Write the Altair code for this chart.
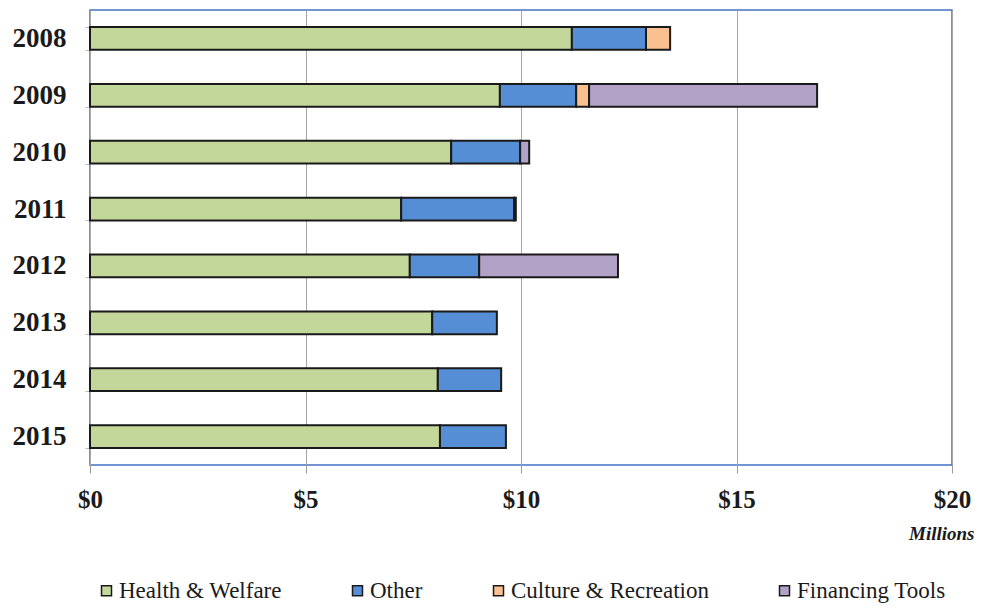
import altair as alt
import pandas as pd

years = ["2008", "2009", "2010", "2011", "2012", "2013", "2014", "2015"]
categories = ["Health & Welfare", "Other", "Culture & Recreation", "Financing Tools"]
health = [11.18, 9.51, 8.38, 7.22, 7.42, 7.94, 8.07, 8.12]
other = [1.72, 1.77, 1.60, 2.62, 1.61, 1.50, 1.47, 1.53]
culture = [0.56, 0.30, 0.0, 0.0, 0.0, 0.0, 0.0, 0.0]
financing = [0.0, 5.29, 0.21, 0.04, 3.22, 0.0, 0.0, 0.0]
colors = ["#C4D79B", "#558ED5", "#FAC090", "#B3A2C7"]

rows = []
for series, vals in zip(categories, [health, other, culture, financing]):
    for y, v in zip(years, vals):
        if v > 0:
            rows.append({"Year": y, "Category": series, "Value": v,
                         "Order": categories.index(series)})
df = pd.DataFrame(rows)

serif = "Liberation Serif"

chart = alt.Chart(df).mark_bar(
    stroke="#1a1a1a", strokeWidth=2, strokeJoin="miter"
).encode(
    x=alt.X("Value:Q", stack="zero",
            scale=alt.Scale(domain=[0, 20], nice=False),
            axis=alt.Axis(values=[0, 5, 10, 15, 20], format="$,.0f",
                          labelFont=serif, labelFontSize=25, labelFontWeight="bold",
                          labelColor="#1a1a1a", labelPadding=14, labelFlush=False,
                          tickSize=8, tickColor="#999999", domain=False,
                          grid=True, gridColor="#A6A6A6", gridWidth=1,
                          title="Millions", titleFont=serif, titleFontSize=19,
                          titleFontStyle="italic", titleFontWeight="bold",
                          titleColor="#1a1a1a",
                          titleAnchor="end", titleAlign="right", titleX=884, titleY=68,
                          titleBaseline="middle")),
    y=alt.Y("Year:N", sort=years,
            scale=alt.Scale(paddingInner=0.6, paddingOuter=0.3),
            axis=alt.Axis(title=None, labelFont=serif, labelFontSize=27,
                          labelFontWeight="bold", labelColor="#1a1a1a",
                          labelPadding=19, tickSize=5, tickBand="extent",
                          tickColor="#BBBBBB", domain=False, grid=False)),
    color=alt.Color("Category:N", sort=categories,
                    scale=alt.Scale(domain=categories, range=colors),
                    legend=alt.Legend(title=None, orient="none", direction="horizontal",
                                      legendX=5, legendY=569,
                                      labelFont=serif, labelFontSize=23, labelLimit=0,
                                      labelColor="#1a1a1a", labelOffset=1,
                                      symbolType="square", symbolSize=100,
                                      symbolStrokeColor="#1a1a1a", symbolStrokeWidth=1.5,
                                      columnPadding=64)),
    order=alt.Order("Order:Q", sort="ascending"),
).properties(
    width=862, height=455,
    autosize=alt.AutoSizeParams(type="none"),
    padding={"left": 82, "top": 2, "right": 22, "bottom": 141},
).configure_view(
    stroke="#4472C4", strokeWidth=1.5
)

chart.save("out.html", embed_options={"renderer": "svg", "actions": False})
